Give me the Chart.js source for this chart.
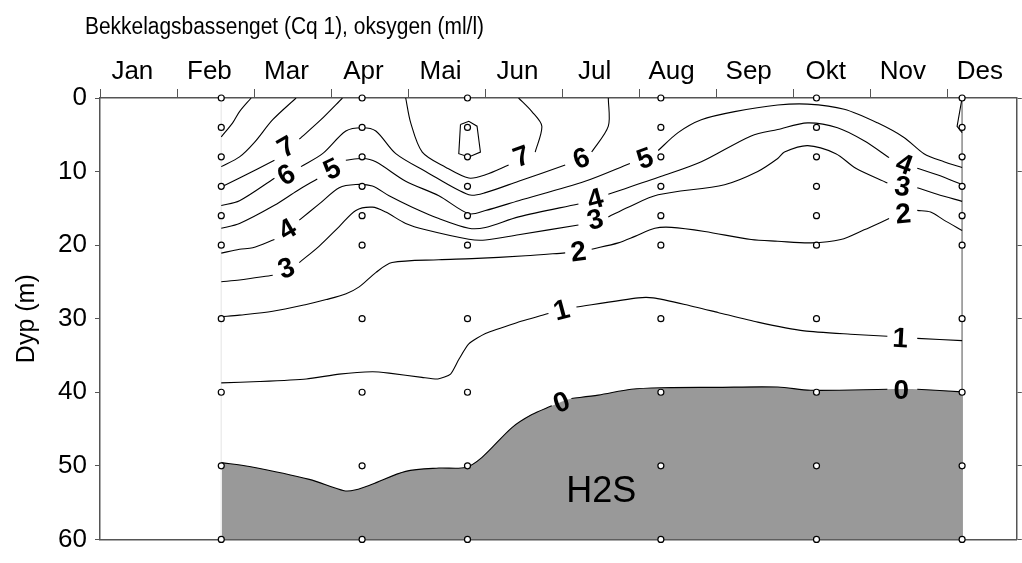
<!DOCTYPE html>
<html>
<head>
<meta charset="utf-8">
<script src="https://cdn.jsdelivr.net/npm/chart.js@4.4.1/dist/chart.umd.min.js"></script>
<style>
  body { margin: 0; background: #fff; }
  canvas { display: block; }
</style>
</head>
<body>
<canvas id="oxyChart" width="1022" height="563"></canvas>
<script>
// Bekkelagsbassenget (Cq 1), oksygen (ml/l) - isopletdiagram
// x = måned (0 = 1. jan, 1 = 1. feb ...), y = dyp (m)

const months = ['Jan', 'Feb', 'Mar', 'Apr', 'Mai', 'Jun', 'Jul', 'Aug', 'Sep', 'Okt', 'Nov', 'Des'];
const depthTicks = [0, 10, 20, 30, 40, 50, 60];

// prøvetakinger
const sampleDates = [1.574, 3.402, 4.77, 7.28, 9.30, 11.19];
const sampleDepths = [0, 4, 8, 12, 16, 20, 30, 40, 50, 60];

// isolinjer: [måned, dyp], null = brudd der tallet står
const iso9 = [[1.574, 5.29], [1.724, 3.34], [1.811, 1.85], [1.962, 0]];
const iso8 = [[1.574, 9.33], [1.811, 8.01], [2.005, 6.03], [2.242, 2.95], [2.545, 0]];
const iso8b = [[4.679, 3.61], [4.787, 3.17], [4.894, 3.83], [4.938, 7.35], [4.787, 8.01], [4.657, 7.57], [4.679, 3.61]];
const iso7a = [[1.574, 12.11], [1.811, 10.88], [2.264, 8.46], null, [2.587, 5.59], [2.868, 2.95], [3.147, 0]];
const iso7b = [[3.968, 0], [4.033, 3.38], [4.183, 7.35], [4.485, 9.4], [4.787, 10.88], [5.003, 10.44], [5.304, 9.12],
  null, [5.649, 7.35], [5.735, 3.83], [5.606, 1.85], [5.433, 0]];
const iso6 = [[1.574, 14.62], [1.811, 13.96], [2.264, 10.9], null, [2.609, 9.33], [2.889, 7.57], [3.191, 4.49],
  [3.406, 4.04], [3.580, 4.49], [3.839, 7.57], [4.227, 9.99], [4.787, 13.16], [5.003, 12.86], [5.433, 11.31],
  [6.038, 9.12], null, [6.382, 7.35], [6.598, 3.83], [6.598, 0]];
const iso6b = [[11.19, 0], [11.125, 3.87], [11.19, 4.70]];
const iso5 = [[1.574, 17.71], [1.811, 17.05], [2.264, 14.58], [2.56, 12.6], [2.82, 11.0], null, [3.191, 8.46],
  [3.406, 8.23], [3.580, 8.67], [3.968, 11.31], [4.398, 13.29], [4.787, 15.73], [5.003, 15.3], [5.433, 13.96],
  [6.296, 11.31], [6.878, 8.89], null, [7.245, 7.14], [7.503, 4.70], [7.805, 2.95], [8.237, 1.85], [8.797, 0.96],
  [9.185, 0.83], [9.660, 1.53], [10.091, 3.38], [10.436, 5.37], [10.695, 7.57], [10.954, 8.67], [11.19, 9.46]];
const iso4 = [[1.574, 21.09], [1.811, 20.56], [1.983, 20.35], [2.264, 19.24], null, [2.587, 16.60], [2.846, 14.40],
  [3.105, 12.20], [3.321, 11.76], [3.536, 11.97], [3.752, 13.29], [4.053, 14.84], [4.398, 16.39], [4.787, 17.71],
  [5.003, 17.6], [5.433, 16.16], [6.210, 14.40], null, [6.598, 13.08], [7.287, 10.65], [7.805, 8.67], [8.452, 5.15],
  [8.797, 4.27], [9.185, 3.38], [9.573, 4.04], [9.918, 5.81], [10.242, 8.10], null, [10.608, 9.55], [10.867, 10.44],
  [11.19, 11.76]];
const iso3 = [[1.574, 24.98], [1.811, 24.75], [2.242, 24.09], null, [2.587, 22.37], [2.846, 20.13], [3.105, 17.48],
  [3.321, 15.28], [3.536, 14.84], [3.709, 15.50], [3.968, 17.05], [4.227, 17.92], [4.787, 19.20], [5.003, 19.3],
  [5.433, 18.58], [6.210, 17.26], null, [6.598, 16.16], [6.856, 14.84], [7.245, 13.16], [8.107, 11.78], [8.538, 9.99],
  [8.797, 8.23], [8.884, 7.35], [9.185, 6.48], [9.551, 7.57], [9.810, 9.55], [10.220, 11.54], null, [10.608, 12.20],
  [10.867, 13.08], [11.19, 14.05]];
const iso2 = [[1.574, 29.73], [1.811, 29.51], [2.242, 28.98], [2.678, 28.06], [2.937, 27.40], [3.195, 26.60],
  [3.364, 25.68], [3.583, 23.70], [3.791, 22.37], [4.398, 21.98], [4.825, 21.84], [5.524, 21.45], [6.038, 21.05],
  null, [6.382, 20.56], [6.727, 19.69], [6.943, 18.81], [7.202, 17.71], [7.417, 17.58], [7.849, 18.14], [8.452, 19.24],
  [8.797, 19.47], [9.228, 19.69], [9.616, 19.24], [9.918, 17.92], [10.242, 16.39], null, [10.608, 15.28],
  [10.781, 15.50], [10.954, 16.60], [11.19, 18.01]];
const iso1 = [[1.574, 38.72], [2.070, 38.54], [2.678, 38.19], [3.105, 37.53], [3.536, 37.21], [3.752, 37.40],
  [4.179, 37.97], [4.386, 38.19], [4.550, 37.53], [4.657, 35.55], [4.787, 33.43], [5.003, 32.02], [5.390, 30.61],
  [5.821, 29.29], null, [6.184, 28.41], [6.986, 27.17], [7.180, 27.17], [7.590, 28.06], [8.021, 29.15], [8.538, 30.47],
  [9.142, 31.66], [9.741, 32.11], [10.220, 32.38], null, [10.608, 32.68], [11.19, 32.98]];
const iso0 = [[1.574, 49.56], [1.940, 50.09], [2.717, 51.84], [3.169, 53.39], [3.321, 53.26], [3.532, 52.50],
  [3.968, 50.75], [4.398, 50.30], [4.744, 50.22], [4.959, 48.84], [5.347, 44.80], [5.606, 43.03], [5.864, 41.84],
  null, [6.119, 40.84], [6.468, 40.39], [6.895, 39.59], [7.283, 39.38], [7.982, 39.33], [8.797, 39.29], [9.224, 39.73],
  [10.220, 39.59], null, [10.608, 39.59], [11.19, 39.95]];

// tall på isolinjene: [tekst, måned, dyp, vinkel]
const isoLabels = [
  ['7', 2.419, 6.66, -30], ['6', 2.419, 10.48, -30], ['5', 3.014, 9.69, -25], ['4', 2.432, 17.88, -30],
  ['3', 2.419, 23.17, -20], ['7', 5.472, 7.97, -20], ['6', 6.248, 8.23, -20], ['5', 7.076, 8.23, -20],
  ['4', 6.430, 13.78, -15], ['3', 6.430, 16.56, -15], ['2', 6.210, 20.92, -7], ['1', 5.990, 28.85, -15],
  ['0', 5.990, 41.41, -20], ['4', 10.440, 9.03, 20], ['3', 10.414, 12.07, 10], ['2', 10.427, 15.77, -5],
  ['1', 10.388, 32.68, 3], ['0', 10.401, 39.69, 0]
];

const FONT = '"Liberation Sans", Arial, sans-serif';
Chart.defaults.font.family = FONT;
Chart.defaults.color = '#000';

function toPoints(arr) {
  return arr.map(p => p ? { x: p[0], y: p[1] } : { x: null, y: null });
}

function isoLine(arr, tension) {
  return {
    data: toPoints(arr),
    borderColor: '#000',
    borderWidth: 1.1,
    pointRadius: 0,
    fill: false,
    tension: tension,
    spanGaps: false,
    order: 2
  };
}

const samplePoints = [];
sampleDates.forEach(m => sampleDepths.forEach(d => samplePoints.push({ x: m, y: d })));

const datasets = [
  {
    data: samplePoints,
    showLine: false,
    pointRadius: 3,
    pointBorderWidth: 1.2,
    pointBorderColor: '#000',
    pointBackgroundColor: '#fff',
    clip: false,
    order: 0
  },
  isoLine(iso9, 0.3), isoLine(iso8, 0.3), isoLine(iso8b, 0), isoLine(iso7a, 0.3), isoLine(iso7b, 0.3),
  isoLine(iso6, 0.3), isoLine(iso6b, 0), isoLine(iso5, 0.3), isoLine(iso4, 0.3), isoLine(iso3, 0.3),
  isoLine(iso2, 0.3), isoLine(iso1, 0.2), isoLine(iso0, 0.3),
  // dataområdets kanter
  { data: [{ x: sampleDates[0], y: 0 }, { x: sampleDates[0], y: 60 }], borderColor: '#eeeeee', borderWidth: 1, pointRadius: 0, order: 3 },
  { data: [{ x: sampleDates[5], y: 0 }, { x: sampleDates[5], y: 60 }], borderColor: '#999999', borderWidth: 1, pointRadius: 0, order: 3 },
  // H2S
  {
    data: toPoints(iso0.filter(p => p)),
    borderWidth: 0,
    borderColor: 'rgba(0,0,0,0)',
    backgroundColor: '#999999',
    pointRadius: 0,
    tension: 0.3,
    fill: { value: 60 },
    order: 4
  }
];

const textPlugin = {
  id: 'isoText',
  afterDatasetsDraw(chart) {
    const { ctx } = chart;
    const x = chart.scales.x, y = chart.scales.y;
    ctx.save();
    ctx.fillStyle = '#000';
    ctx.textAlign = 'center';
    ctx.textBaseline = 'middle';
    ctx.font = 'bold 28px ' + FONT;
    isoLabels.forEach(([txt, m, d, rot]) => {
      ctx.save();
      ctx.translate(x.getPixelForValue(m), y.getPixelForValue(d));
      ctx.rotate(rot * Math.PI / 180);
      ctx.fillText(txt, 0, 1);
      ctx.restore();
    });
    ctx.font = '36px ' + FONT;
    ctx.fillText('H2S', x.getPixelForValue(6.507), y.getPixelForValue(53.56));
    ctx.textAlign = 'left';
    ctx.textBaseline = 'alphabetic';
    ctx.font = '23px ' + FONT;
    ctx.translate(85, 34);
    ctx.scale(0.91, 1);
    ctx.fillText('Bekkelagsbassenget (Cq 1), oksygen (ml/l)', 0, 0);
    ctx.restore();
  }
};

const axisColor = '#555';

new Chart(document.getElementById('oxyChart'), {
  type: 'line',
  data: { datasets },
  options: {
    responsive: false,
    animation: false,
    layout: { padding: 0 },
    plugins: { legend: { display: false }, tooltip: { enabled: false }, title: { display: false } },
    scales: {
      x: {
        type: 'linear',
        position: 'top',
        min: 0,
        max: 11.9,
        afterBuildTicks: s => {
          const t = [];
          months.forEach((m, i) => { t.push({ value: i }); t.push({ value: i + 0.42 }); });
          s.ticks = t;
        },
        afterFit: s => { s.height = 98; },
        ticks: {
          autoSkip: false,
          maxRotation: 0,
          padding: 2,
          font: { size: 26 },
          callback: v => Number.isInteger(v) ? '' : months[Math.floor(v)]
        },
        grid: {
          drawOnChartArea: false,
          drawTicks: true,
          tickLength: 9,
          color: c => (c.tick && Number.isInteger(c.tick.value)) ? axisColor : 'rgba(0,0,0,0)'
        },
        border: { display: true, color: axisColor, width: 1.5 }
      },
      xb: {
        type: 'linear',
        position: 'bottom',
        min: 0,
        max: 11.9,
        afterFit: s => { s.height = 11; },
        ticks: { display: false },
        grid: { display: false },
        border: { display: true, color: axisColor, width: 1.5 }
      },
      y: {
        type: 'linear',
        position: 'left',
        reverse: true,
        min: 0,
        max: 60,
        afterBuildTicks: s => { s.ticks = depthTicks.map(v => ({ value: v })); },
        afterFit: s => { s.width = 100; },
        ticks: { padding: 8, font: { size: 26 } },
        grid: { drawOnChartArea: false, drawTicks: true, tickLength: 5, color: axisColor },
        border: { display: true, color: axisColor, width: 1.5 },
        title: { display: true, text: 'Dyp (m)', font: { size: 25 }, padding: { top: 12, bottom: 0 } }
      },
      yr: {
        type: 'linear',
        position: 'right',
        reverse: true,
        min: 0,
        max: 60,
        afterBuildTicks: s => { s.ticks = depthTicks.map(v => ({ value: v })); },
        afterFit: s => { s.width = 2; },
        ticks: { display: false },
        grid: { drawOnChartArea: false, drawTicks: true, tickLength: 5, color: axisColor },
        border: { display: true, color: axisColor, width: 1.5 }
      }
    }
  },
  plugins: [textPlugin]
});
</script>
</body>
</html>
